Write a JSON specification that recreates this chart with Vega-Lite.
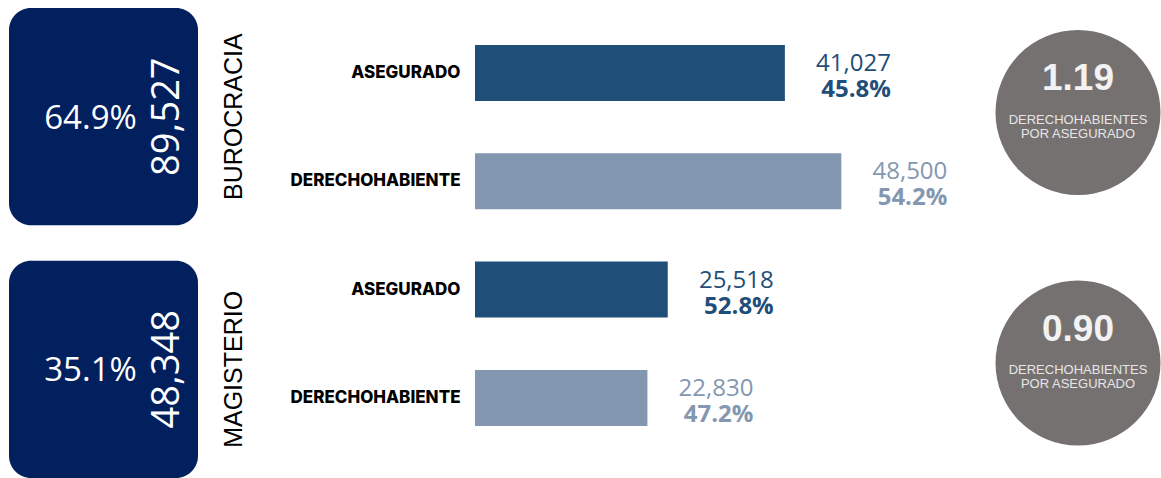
{
  "$schema": "https://vega.github.io/schema/vega-lite/v6.json",
  "padding": {"left": 9, "top": 8, "right": 0, "bottom": 0},
  "bounds": "flush",
  "spacing": 277,
  "config": {"view": {"stroke": null}},
  "datasets": {
    "grupos": [
      {"grupo": "BUROCRACIA", "total": 89527, "pct": 0.649, "ratio": 1.19},
      {"grupo": "MAGISTERIO", "total": 48348, "pct": 0.351, "ratio": 0.90}
    ],
    "barras": [
      {"fila": "BUROCRACIA|ASEGURADO", "grupo": "BUROCRACIA", "tipo": "ASEGURADO", "valor": 41027, "pct": 0.458},
      {"fila": "BUROCRACIA|DERECHOHABIENTE", "grupo": "BUROCRACIA", "tipo": "DERECHOHABIENTE", "valor": 48500, "pct": 0.542},
      {"fila": "MAGISTERIO|ASEGURADO", "grupo": "MAGISTERIO", "tipo": "ASEGURADO", "valor": 25518, "pct": 0.528},
      {"fila": "MAGISTERIO|DERECHOHABIENTE", "grupo": "MAGISTERIO", "tipo": "DERECHOHABIENTE", "valor": 22830, "pct": 0.472}
    ]
  },
  "hconcat": [
    {
      "width": 189,
      "height": 470,
      "data": {"name": "grupos"},
      "encoding": {
        "y": {
          "field": "grupo",
          "type": "nominal",
          "sort": null,
          "scale": {"paddingInner": 0.14, "paddingOuter": 0},
          "axis": {
            "orient": "right",
            "title": null,
            "ticks": false,
            "domain": false,
            "labelAngle": -90,
            "labelAlign": "center",
            "labelBaseline": "middle",
            "labelPadding": 35,
            "labelFont": "Liberation Sans",
            "labelFontSize": 25,
            "labelColor": "#000000",
            "labelLimit": 400,
            "labelOverlap": false
          }
        }
      },
      "layer": [
        {
          "mark": {"type": "rect", "color": "#02205e", "cornerRadius": 22},
          "encoding": {"x": {"value": 0}, "x2": {"value": "width"}}
        },
        {
          "mark": {"type": "text", "font": "Open Sans", "fontSize": 33, "color": "#ffffff", "align": "center", "baseline": "middle", "dx": -13, "dy": 2},
          "encoding": {"text": {"field": "pct", "type": "quantitative", "format": ".1%"}}
        },
        {
          "mark": {"type": "text", "font": "Open Sans", "fontSize": 38, "color": "#ffffff", "align": "center", "baseline": "middle", "angle": 270, "dy": 64, "dx": 0},
          "encoding": {"text": {"field": "total", "type": "quantitative", "format": ","}}
        }
      ]
    },
    {
      "spacing": 20,
      "bounds": "flush",
      "hconcat": [
        {
          "width": 500,
          "height": 470,
          "data": {"name": "barras"},
          "encoding": {
            "y": {
              "field": "fila",
              "type": "nominal",
              "sort": null,
              "scale": {"paddingInner": 0.483, "paddingOuter": 0.411, "align": 0.415},
              "axis": {
                "title": null,
                "ticks": false,
                "domain": false,
                "labelExpr": "split(datum.label, '|')[1]",
                "labelPadding": 15,
                "labelFont": "Inter",
                "labelFontWeight": 800,
                "labelFontSize": 17,
                "labelColor": "#000000",
                "labelLimit": 400,
                "labelOverlap": false
              }
            },
            "x": {"field": "valor", "type": "quantitative", "scale": {"domain": [0, 66200]}, "axis": null},
            "color": {
              "field": "tipo",
              "type": "nominal",
              "scale": {"domain": ["ASEGURADO", "DERECHOHABIENTE"], "range": ["#1f4e79", "#8497b0"]},
              "legend": null
            }
          },
          "layer": [
            {"mark": {"type": "bar"}},
            {
              "mark": {"type": "text", "font": "Open Sans", "fontSize": 24, "align": "right", "baseline": "alphabetic", "dx": 106, "dy": -2},
              "encoding": {"text": {"field": "valor", "type": "quantitative", "format": ","}}
            },
            {
              "mark": {"type": "text", "font": "Open Sans", "fontSize": 24, "fontWeight": "bold", "align": "right", "baseline": "alphabetic", "dx": 106, "dy": 24},
              "encoding": {"text": {"field": "pct", "type": "quantitative", "format": ".1%"}}
            }
          ]
        },
        {
          "width": 166,
          "height": 470,
          "data": {"name": "grupos"},
          "encoding": {
            "y": {
              "field": "grupo",
              "type": "nominal",
              "sort": null,
              "scale": {"type": "point", "padding": 0.438, "align": 0.476},
              "axis": null
            }
          },
          "layer": [
            {"mark": {"type": "point", "shape": "circle", "filled": true, "size": 27225, "color": "#767171", "opacity": 1}},
            {
              "mark": {"type": "text", "font": "Liberation Sans", "fontSize": 37, "fontWeight": "bold", "color": "#f2f2f2", "align": "center", "baseline": "alphabetic", "dy": -22},
              "encoding": {"text": {"field": "ratio", "type": "quantitative", "format": ".2f"}}
            },
            {
              "mark": {"type": "text", "font": "Liberation Sans", "fontSize": 13, "color": "#e6e6e6", "align": "center", "baseline": "alphabetic", "dy": 11.5, "lineHeight": 14, "text": ["DERECHOHABIENTES", "POR ASEGURADO"]},
              "encoding": {}
            }
          ]
        }
      ]
    }
  ]
}
